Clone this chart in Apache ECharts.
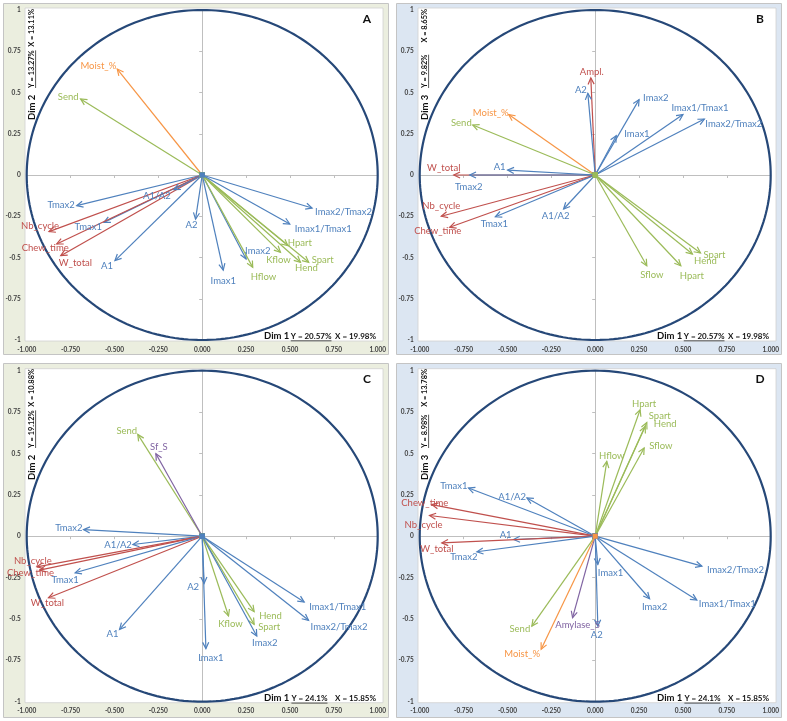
<!DOCTYPE html>
<html><head><meta charset="utf-8">
<script src="https://cdn.jsdelivr.net/npm/echarts/dist/echarts.min.js"></script>
<style>html,body{margin:0;padding:0;background:#fff}#c{width:787px;height:721px}</style>
</head><body><div id="c"></div>
<script>
// ---------- DATA ----------
const axisTicks = [-1, -0.75, -0.5, -0.25, 0, 0.25, 0.5, 0.75, 1];

const varsA = ["Moist_%","Send","Tmax2","Nb_cycle","Tmax1","Chew_time","W_total","A1","A1/A2","A2","Imax1","Imax2","Hflow","Kflow","Hpart","Hend","Spart","Imax1/Tmax1","Imax2/Tmax2"];
const xA = [-0.484,-0.693,-0.715,-0.873,-0.560,-0.829,-0.806,-0.497,-0.161,-0.038,0.120,0.250,0.288,0.446,0.488,0.560,0.607,0.499,0.626];
const yA = [0.642,0.461,-0.186,-0.343,-0.287,-0.418,-0.489,-0.519,-0.089,-0.267,-0.576,-0.509,-0.560,-0.469,-0.428,-0.529,-0.529,-0.297,-0.200];

const varsB = ["Ampl.","A2","Imax2","Imax1/Tmax1","Imax2/Tmax2","Imax1","Moist_%","Send","W_total","Tmax2","A1","Nb_cycle","Chew_time","Tmax1","A1/A2","Sflow","Hpart","Hend","Spart"];
const xB = [-0.025,-0.042,0.250,0.500,0.622,0.120,-0.493,-0.698,-0.806,-0.715,-0.499,-0.877,-0.829,-0.569,-0.180,0.294,0.488,0.554,0.600];
const yB = [0.588,0.495,0.457,0.366,0.339,0.238,0.366,0.303,0.000,0.000,0.030,-0.250,-0.317,-0.253,-0.206,-0.550,-0.550,-0.479,-0.473];

const varsC = ["Send","Sf_S","Tmax2","A1/A2","Nb_cycle","Chew_time","Tmax1","W_total","A1","A2","Imax1","Kflow","Hend","Spart","Imax2","Imax1/Tmax1","Imax2/Tmax2"];
const xC = [-0.367,-0.264,-0.676,-0.395,-0.942,-0.927,-0.724,-0.876,-0.471,0.011,0.021,0.150,0.296,0.296,0.311,0.581,0.606];
const yC = [0.615,0.498,0.040,-0.050,-0.185,-0.205,-0.221,-0.372,-0.563,-0.285,-0.679,-0.482,-0.456,-0.533,-0.603,-0.398,-0.508];

const varsD = ["Hpart","Spart","Hend","Sflow","Hflow","Tmax1","A1/A2","Chew_time","Nb_cycle","A1","W_total","Tmax2","Imax1","Imax2/Tmax2","Imax2","Imax1/Tmax1","Send","Amylase_S","A2","Moist_%"];
const xD = [0.256,0.294,0.285,0.279,0.066,-0.722,-0.389,-0.931,-0.944,-0.465,-0.874,-0.674,0.015,0.608,0.310,0.579,-0.361,-0.129,0.015,-0.308];
const yD = [0.764,0.687,0.663,0.533,0.452,0.291,0.231,0.191,0.125,-0.020,-0.040,-0.094,-0.171,-0.181,-0.378,-0.386,-0.543,-0.492,-0.543,-0.683];

// ---------- STYLE / LAYOUT ----------
const RED = '#C0504D', BLUE = '#4F81BD', GREEN = '#9BBB59', ORANGE = '#F79646', PURPLE = '#8064A2';
function colorOf(n) {
  if (["Nb_cycle","Chew_time","W_total","Ampl."].includes(n)) return RED;
  if (n === "Moist_%") return ORANGE;
  if (n === "Sf_S" || n === "Amylase_S") return PURPLE;
  if (["Send","Hpart","Hend","Spart","Hflow","Kflow","Sflow"].includes(n)) return GREEN;
  return BLUE;
}
const labelPos = {
  A: {"Moist_%":[-1,-3,'right'],"Send":[-2,-2,'right'],"Tmax2":[-2,-1,'right'],"Nb_cycle":[-9,-6,'center'],"Tmax1":[-2,5,'right'],"Chew_time":[-11.5,4,'center'],"W_total":[-2,7,'left'],"A1":[-2,5,'right'],"A1/A2":[-17,6,'center'],"A2":[-4,6,'center'],"Imax1":[0,11,'center'],"Imax2":[-1,-8,'left'],"Hflow":[-2,10,'left'],"Kflow":[-2,8,'center'],"Hpart":[0,-3,'left'],"Hend":[6,6,'center'],"Spart":[3,-2,'left'],"Imax1/Tmax1":[5,5,'left'],"Imax2/Tmax2":[3,4,'left']},
  B: {"Ampl.":[1,-6,'center'],"A2":[-1,-3,'right'],"Imax2":[4,-2,'left'],"Imax1/Tmax1":[17,-7,'center'],"Imax2/Tmax2":[1,5,'left'],"Imax1":[8,-2,'left'],"Moist_%":[0,-2,'right'],"Send":[-1,-2,'right'],"W_total":[-10,-7,'center'],"Tmax2":[-1,12,'center'],"A1":[-2,-3,'right'],"Nb_cycle":[0,-10,'center'],"Chew_time":[-12,4,'center'],"Tmax1":[-1,7,'center'],"A1/A2":[-8,7,'center'],"Sflow":[5,9,'center'],"Hpart":[11,10,'center'],"Hend":[13,7,'center'],"Spart":[14,2,'center']},
  C: {"Send":[-11,-3,'center'],"Sf_S":[3,-7,'center'],"Tmax2":[-1,-2,'right'],"A1/A2":[-1,0,'right'],"Nb_cycle":[-4,-6,'center'],"Chew_time":[-9,3,'center'],"Tmax1":[-10,7,'center'],"W_total":[-1,5,'center'],"A1":[-7,5,'center'],"A2":[-11,4,'center'],"Imax1":[5,9,'center'],"Kflow":[2,8,'center'],"Hend":[5,4,'left'],"Spart":[4,3,'left'],"Imax2":[8,7,'center'],"Imax1/Tmax1":[5,5,'left'],"Imax2/Tmax2":[2,7,'left']},
  D: {"Hpart":[4,-6,'center'],"Spart":[13,-7,'center'],"Hend":[20,-3,'center'],"Sflow":[5,-2,'left'],"Hflow":[5,-5,'center'],"Tmax1":[-1,-2,'right'],"A1/A2":[-1,-1,'right'],"Chew_time":[-7,-2,'center'],"Nb_cycle":[-6,9,'center'],"A1":[-2,-5,'right'],"W_total":[-5,6,'center'],"Tmax2":[-13,5,'center'],"Imax1":[0,8,'left'],"Imax2/Tmax2":[5,4,'left'],"Imax2":[5,8,'center'],"Imax1/Tmax1":[2,4,'left'],"Send":[-12,3,'center'],"Amylase_S":[5,7,'center'],"A2":[-1,9,'center'],"Moist_%":[-19,5,'center']}
};

const panels = [
  {key:'A', names:varsA, xs:xA, ys:yA, ox:0,   oy:0,   gTop:10,   gH:330, bg:'#EBEEDF', dimY:'Dim 2', yPct:'Y = 13.27%', xPct:'X = 13.11%', xyPct:'Y = 20.57%', xxPct:'X = 19.98%'},
  {key:'B', names:varsB, xs:xB, ys:yB, ox:393, oy:0,   gTop:10,   gH:330, bg:'#DCE6F2', dimY:'Dim 3', yPct:'Y = 9.82%',  xPct:'X = 8.65%',  xyPct:'Y = 20.57%', xxPct:'X = 19.98%'},
  {key:'C', names:varsC, xs:xC, ys:yC, ox:0,   oy:360, gTop:10.7, gH:331, bg:'#EBEEDF', dimY:'Dim 2', yPct:'Y = 19.12%', xPct:'X = 10.88%', xyPct:'Y = 24.1%',  xxPct:'X = 15.85%'},
  {key:'D', names:varsD, xs:xD, ys:yD, ox:393, oy:360, gTop:10.7, gH:331, bg:'#DCE6F2', dimY:'Dim 3', yPct:'Y = 8.98%',  xPct:'X = 13.78%', xyPct:'Y = 24.1%',  xxPct:'X = 15.85%'}
];

const FONT = 'Lato, "Liberation Sans", sans-serif';
const PCT_FONT = 'bold 8px ' + FONT;
const VPCT_FONT = 'bold 7.4px ' + FONT;
const DIM_FONT = 'bold 9.5px ' + FONT;
const mctx = document.createElement('canvas').getContext('2d');
function measure(txt, font) { mctx.font = font; return mctx.measureText(txt).width; }

const grids = [], xAxes = [], yAxes = [], series = [], graphics = [];

panels.forEach((p, i) => {
  const left = p.ox + 26.7, top = p.oy + p.gTop;
  grids.push({left: left, top: top, width: 351, height: p.gH, show: false});
  const common = {gridIndex: i, type: 'value', min: axisTicks[0], max: axisTicks[axisTicks.length-1], interval: 0.25, splitLine: {show: false}};
  xAxes.push(Object.assign({}, common, {position:'bottom', axisLine:{show:false,onZero:false}, axisTick:{show:false},
    axisLabel:{formatter: v => v.toFixed(3), fontSize:6.5, fontWeight:'bold', color:'#404040', margin:6, fontFamily:FONT}}));
  xAxes.push(Object.assign({}, common, {position:'bottom', axisLine:{show:true,onZero:true,lineStyle:{color:'#BFBFBF',width:1}},
    axisTick:{show:true,length:3,lineStyle:{color:'#BFBFBF'}}, axisLabel:{show:false}, z: 1}));
  yAxes.push(Object.assign({}, common, {position:'left', axisLine:{show:false,onZero:false}, axisTick:{show:false},
    axisLabel:{fontSize:6.5, fontWeight:'bold', color:'#404040', margin:6, fontFamily:FONT}}));
  yAxes.push(Object.assign({}, common, {position:'left', axisLine:{show:true,onZero:true,lineStyle:{color:'#BFBFBF',width:1}},
    axisTick:{show:true,length:3,lineStyle:{color:'#BFBFBF'}}, axisLabel:{show:false}, z: 1}));

  // unit circle
  series.push({type:'custom', xAxisIndex:2*i, yAxisIndex:2*i, data:[[0,0]], silent:true, z:3,
    renderItem: function (params, api) {
      const pts = [];
      for (let k = 0; k <= 240; k++) { const t = k / 240 * 2 * Math.PI; pts.push(api.coord([Math.cos(t), Math.sin(t)])); }
      return {type:'polyline', shape:{points:pts}, style:{stroke:'#264878', lineWidth:2.2, fill:null}};
    }});

  // arrows
  const data = p.xs.map((x, k) => [x, p.ys[k]]);
  series.push({type:'custom', xAxisIndex:2*i, yAxisIndex:2*i, data:data, silent:true, z:5,
    renderItem: function (params, api) {
      const name = p.names[params.dataIndex];
      const col = colorOf(name);
      const o = api.coord([0, 0]);
      const t = api.coord([api.value(0), api.value(1)]);
      const ang = Math.atan2(t[1]-o[1], t[0]-o[0]);
      const L = 7, a = 0.45;
      const h1 = [t[0]-L*Math.cos(ang-a), t[1]-L*Math.sin(ang-a)];
      const h2 = [t[0]-L*Math.cos(ang+a), t[1]-L*Math.sin(ang+a)];
      const lp = labelPos[p.key][name] || [4, 0, 'left'];
      return {type:'group', children:[
        {type:'line', shape:{x1:o[0], y1:o[1], x2:t[0], y2:t[1]}, style:{stroke:col, lineWidth:1.2}},
        {type:'polyline', shape:{points:[h1, t, h2]}, style:{stroke:col, lineWidth:1.2, fill:null}},
        {type:'rect', shape:{x:o[0]-2.5, y:o[1]-2.5, width:5, height:5}, style:{fill:col}},
        {type:'text', x:t[0]+lp[0], y:t[1]+lp[1], z2:10,
          style:{text:name, fill:col, font:'9.5px ' + FONT, align:lp[2], verticalAlign:'middle'}}
      ]};
    }});

  // backgrounds and texts
  const ox = p.ox, oy = p.oy;
  const oTop = oy === 0 ? 3 : 363, oBot = oy === 0 ? 354 : 717;
  graphics.push({type:'rect', z:-20, shape:{x:ox+3.5, y:oTop+0.5, width:385, height:oBot-oTop}, style:{fill:p.bg, stroke:'#C4C4C4', lineWidth:1}});
  graphics.push({type:'rect', z:-19, shape:{x:ox+25, y:oy+p.gTop-2, width:358, height:p.gH+3}, style:{fill:'#ffffff', stroke:'#D0D0D0', lineWidth:0.8}});
  graphics.push({type:'text', z:50, x:ox+367, y:oy+19, style:{text:p.key, font:'bold 12px ' + FONT, fill:'#111', align:'center', verticalAlign:'middle'}});
  graphics.push({type:'text', z:50, x:ox+32, y:oy+120, rotation:Math.PI/2, style:{text:p.dimY, font:DIM_FONT, fill:'#111', align:'left', verticalAlign:'middle'}});
  graphics.push({type:'text', z:50, x:ox+31.5, y:oy+88, rotation:Math.PI/2, style:{text:p.yPct, font:VPCT_FONT, fill:'#111', align:'left', verticalAlign:'middle'}});
  graphics.push({type:'text', z:50, x:ox+31.5, y:oy+9, rotation:Math.PI/2, style:{text:p.xPct, font:VPCT_FONT, fill:'#111', align:'right', verticalAlign:'middle'}});
  const wv = measure(p.yPct, VPCT_FONT);
  graphics.push({type:'line', z:50, shape:{x1:ox+35.6, y1:oy+88, x2:ox+35.6, y2:oy+88-wv}, style:{stroke:'#111', lineWidth:0.7}});

  const bY = oy + (oy === 0 ? 336 : 338.3);
  const rx = ox + (oy === 0 ? 331.5 : 327.5);
  graphics.push({type:'text', z:50, x:ox+264, y:bY, style:{text:'Dim 1', font:DIM_FONT, fill:'#111', align:'left', verticalAlign:'middle'}});
  graphics.push({type:'text', z:50, x:rx, y:bY+0.5, style:{text:p.xyPct, font:PCT_FONT, fill:'#111', align:'right', verticalAlign:'middle'}});
  graphics.push({type:'text', z:50, x:ox+376, y:bY+0.5, style:{text:p.xxPct, font:PCT_FONT, fill:'#111', align:'right', verticalAlign:'middle'}});
  const wh = measure(p.xyPct, PCT_FONT);
  graphics.push({type:'line', z:50, shape:{x1:rx-wh, y1:bY+4.8, x2:rx, y2:bY+4.8}, style:{stroke:'#111', lineWidth:0.7}});
});

const chart = echarts.init(document.getElementById('c'), null, {renderer:'canvas'});
chart.setOption({
  animation: false,
  backgroundColor: '#ffffff',
  grid: grids, xAxis: xAxes, yAxis: yAxes, series: series,
  graphic: {elements: graphics}
});
</script>
</body></html>
